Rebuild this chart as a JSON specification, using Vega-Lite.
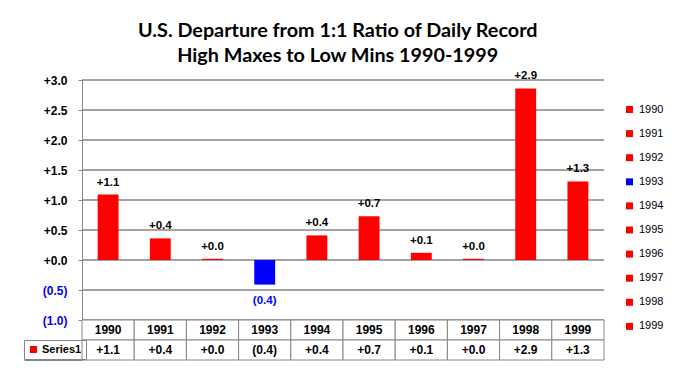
{
  "$schema": "https://vega.github.io/schema/vega-lite/v6.json",
  "background": "white",
  "padding": {"left": 23, "top": 20, "right": 4, "bottom": 4},
  "title": {
    "text": ["U.S. Departure from 1:1 Ratio of Daily Record", "High Maxes to Low Mins 1990-1999"],
    "font": "Lato", "fontSize": 19.8, "fontWeight": "bold", "color": "black",
    "lineHeight": 25, "anchor": "middle", "offset": 5, "dx": -6
  },
  "datasets": {
    "d": [
      {"year": "1990", "v": 1.09},
      {"year": "1991", "v": 0.36},
      {"year": "1992", "v": 0.02},
      {"year": "1993", "v": -0.41},
      {"year": "1994", "v": 0.41},
      {"year": "1995", "v": 0.73},
      {"year": "1996", "v": 0.12},
      {"year": "1997", "v": 0.02},
      {"year": "1998", "v": 2.86},
      {"year": "1999", "v": 1.31}
    ],
    "gridvals": [
      {"g": -1}, {"g": -0.5}, {"g": 0}, {"g": 0.5}, {"g": 1},
      {"g": 1.5}, {"g": 2}, {"g": 2.5}, {"g": 3}
    ]
  },
  "spacing": 0,
  "bounds": "flush",
  "resolve": {"scale": {"color": "independent"}, "legend": {"color": "independent"}},
  "vconcat": [
    {
      "width": 522,
      "height": 240,
      "encoding": {
        "y": {
          "field": "v", "type": "quantitative",
          "scale": {"domain": [-1, 3], "nice": false, "zero": false},
          "axis": {
            "title": null,
            "values": [-1, -0.5, 0, 0.5, 1, 1.5, 2, 2.5, 3],
            "labelExpr": "datum.value >= 0 ? '+' + format(datum.value, '.1f') : '(' + format(-datum.value, '.1f') + ')'",
            "labelColor": {"condition": {"test": "datum.value < 0", "value": "#0000FF"}, "value": "black"},
            "labelFont": "Liberation Sans", "labelFontWeight": "bold", "labelFontSize": 12,
            "labelPadding": 11, "labelFlush": false, "labelOverlap": false,
            "tickSize": 4, "tickColor": "#868686", "domainColor": "#868686",
            "grid": false
          }
        }
      },
      "layer": [
        {
          "data": {"name": "gridvals"},
          "mark": {"type": "rule", "color": "#868686", "strokeWidth": 1.3},
          "encoding": {"y": {"field": "g", "type": "quantitative"}}
        },
        {
          "data": {"name": "d"},
          "mark": {"type": "bar"},
          "encoding": {
            "x": {"field": "year", "type": "nominal", "scale": {"paddingInner": 0.6, "paddingOuter": 0.3}, "axis": null},
            "color": {
              "field": "year", "type": "nominal",
              "scale": {
                "domain": ["1990", "1991", "1992", "1993", "1994", "1995", "1996", "1997", "1998", "1999"],
                "range": ["#FF0000", "#FF0000", "#FF0000", "#0000FF", "#FF0000", "#FF0000", "#FF0000", "#FF0000", "#FF0000", "#FF0000"]
              },
              "legend": {
                "title": null, "orient": "none", "legendX": 542, "legendY": 24,
                "symbolType": "square", "symbolSize": 49, "symbolStrokeWidth": 0,
                "labelFont": "Liberation Sans", "labelFontSize": 11, "labelColor": "black",
                "rowPadding": 12.1, "padding": 0, "labelOffset": 4
              }
            }
          }
        },
        {
          "data": {"name": "d"},
          "transform": [
            {"filter": "datum.v >= 0"},
            {"calculate": "'+' + format(datum.v, '.1f')", "as": "lab"}
          ],
          "mark": {"type": "text", "baseline": "alphabetic", "dy": -9, "font": "Liberation Sans", "fontWeight": "bold", "fontSize": 11.5, "color": "black"},
          "encoding": {
            "x": {"field": "year", "type": "nominal"},
            "text": {"field": "lab"}
          }
        },
        {
          "data": {"name": "d"},
          "transform": [
            {"filter": "datum.v < 0"},
            {"calculate": "'(' + format(-datum.v, '.1f') + ')'", "as": "lab"}
          ],
          "mark": {"type": "text", "baseline": "top", "dy": 10, "font": "Liberation Sans", "fontWeight": "bold", "fontSize": 11.5, "color": "#0000FF"},
          "encoding": {
            "x": {"field": "year", "type": "nominal"},
            "text": {"field": "lab"}
          }
        }
      ]
    },
    {
      "width": 522,
      "height": 40,
      "data": {"name": "d"},
      "transform": [
        {"calculate": "datum.v >= 0 ? '+' + format(datum.v, '.1f') : '(' + format(-datum.v, '.1f') + ')'", "as": "lab"},
        {"fold": ["year", "lab"], "as": ["row", "txt"]}
      ],
      "encoding": {
        "x": {"field": "year", "type": "nominal", "scale": {"paddingInner": 0, "paddingOuter": 0}, "axis": null},
        "y": {
          "field": "row", "type": "nominal",
          "scale": {"domain": ["year", "lab"], "paddingInner": 0, "paddingOuter": 0},
          "axis": {
            "title": null, "labels": false, "domain": false, "grid": false,
            "ticks": true, "bandPosition": 1, "tickSize": 58, "tickColor": "#868686"
          }
        }
      },
      "layer": [
        {"mark": {"type": "rect", "fill": "white", "stroke": "#868686", "strokeWidth": 1}},
        {
          "mark": {"type": "text", "font": "Liberation Sans", "fontWeight": "bold", "fontSize": 12, "color": "black"},
          "encoding": {"text": {"field": "txt"}}
        },
        {
          "mark": {"type": "point", "shape": "square", "filled": true, "opacity": 0},
          "encoding": {
            "color": {
              "datum": "Series1", "type": "nominal",
              "scale": {"range": ["#FF0000"]},
              "legend": {
                "title": null, "orient": "none", "legendX": -58, "legendY": 20,
                "symbolType": "square", "symbolSize": 49, "symbolOpacity": 1, "symbolStrokeWidth": 0,
                "labelFont": "Liberation Sans", "labelFontWeight": "bold", "labelFontSize": 11,
                "labelColor": "black", "labelOffset": 3, "padding": 4,
                "strokeColor": "#868686"
              }
            }
          }
        }
      ]
    }
  ],
  "config": {"view": {"stroke": null}}
}
